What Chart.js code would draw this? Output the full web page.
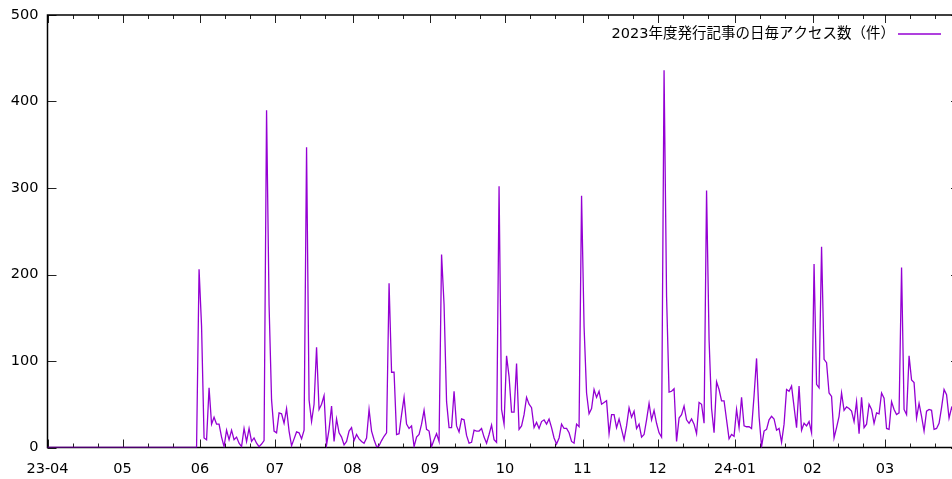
<!DOCTYPE html>
<html>
<head>
<meta charset="utf-8">
<script src="https://cdn.jsdelivr.net/npm/chart.js@4.4.1/dist/chart.umd.min.js"></script>
<style>
html, body { margin: 0; padding: 0; overflow: hidden; background: #fff; }
</style>
</head>
<body>
<canvas id="myChart" width="970" height="479"></canvas>
<script>
// daily access counts, one array per month (FY2023)
var apr = [0,0,0,0,0,0,0,0,0,0, 0,0,0,0,0,0,0,0,0,0, 0,0,0,0,0,0,0,0,0,0];
var may = [0,0,0,0,0,0,0,0,0,0, 0,0,0,0,0,0,0,0,0,0, 0,0,0,0,0,0,0,0,0,0, 0];
var jun = [206,140,11,9,69,27,35,27,27,12,1,20,9,20,9,12,5,1,22,7,22,7,11,5,1,4,8,390,165,55];
var jul = [19,17,40,39,28,45,19,2,10,18,17,10,20,347,55,30,50,116,44,50,60,3,21,48,7,33,17,12,3,7,19];
var aug = [23,8,15,10,7,5,11,44,19,9,1,2,8,13,17,190,87,87,15,16,38,58,27,22,25,1,12,15,27,43,21];
var sep = [19,1,9,16,7,223,165,53,23,23,65,25,18,33,32,14,5,6,20,19,19,22,12,5,15,26,9,6,302,44];
var oct = [27,106,82,41,41,97,21,25,38,58,50,46,23,29,22,30,32,27,33,23,11,4,11,27,22,22,17,7,5,27,24];
var nov = [291,140,63,39,45,67,58,65,50,52,54,16,38,38,23,33,21,9,25,46,35,42,22,27,12,15,32,51,32,43];
var dec = [28,17,12,436,175,64,65,68,7,34,38,48,32,28,33,27,16,52,50,28,297,125,45,17,76,67,54,54,32,10,15];
var jan = [13,44,23,58,25,24,24,22,60,103,36,1,19,21,32,36,33,20,22,6,27,67,65,71,47,23,71,20,28,25,30];
var feb = [17,212,73,69,232,102,98,63,59,11,23,36,63,43,47,45,42,30,53,16,58,23,27,50,44,28,40,39,63];
var mar = [57,22,21,53,44,38,40,208,44,38,106,78,75,34,51,36,19,42,44,43,21,22,28,46,67,61,34,46,40,35,30];

var months = [apr, may, jun, jul, aug, sep, oct, nov, dec, jan, feb, mar];
var monthLabels = ["23-04", "05", "06", "07", "08", "09", "10", "11", "12", "24-01", "02", "03"];
var minorTickDays = [10, 20];
var yTicks = [0, 100, 200, 300, 400, 500];
var seriesLabel = "2023年度発行記事の日毎アクセス数（件）";
var tzShift = 9 / 24; // JST midnight shown on a UTC time axis

var lineColor = "#9400d3";
var tickFont = { family: "'DejaVu Sans', sans-serif", size: 14.5 };

var points = [];
var monthStarts = [];
var day = 0;
months.forEach(function (m) {
    monthStarts.push(day);
    m.forEach(function (v, i) {
        points.push({ x: day + i - tzShift, y: v });
    });
    day += m.length;
});

// gnuplot style box with inward ticks on every side
var frame = {
    id: 'frame',
    beforeDatasetsDraw: function (chart) {
        var ctx = chart.ctx, a = chart.chartArea;
        var xs = chart.scales.x, ys = chart.scales.y;
        ctx.save();
        ctx.strokeStyle = "#222";
        ctx.lineWidth = 1;
        ctx.beginPath();
        monthStarts.forEach(function (d) {
            var px = Math.round(xs.getPixelForValue(d)) + 0.5;
            ctx.moveTo(px, a.bottom); ctx.lineTo(px, a.bottom - 8);
            ctx.moveTo(px, a.top); ctx.lineTo(px, a.top + 8);
            minorTickDays.forEach(function (off) {
                var q = Math.round(xs.getPixelForValue(d + off)) + 0.5;
                ctx.moveTo(q, a.bottom); ctx.lineTo(q, a.bottom - 4);
                ctx.moveTo(q, a.top); ctx.lineTo(q, a.top + 4);
            });
        });
        yTicks.forEach(function (v) {
            var py = Math.round(ys.getPixelForValue(v)) + 0.5;
            ctx.moveTo(a.left, py); ctx.lineTo(a.left + 9, py);
            ctx.moveTo(a.right, py); ctx.lineTo(a.right - 9, py);
        });
        ctx.stroke();
        ctx.strokeStyle = "#000";
        ctx.lineWidth = 1.5;
        ctx.strokeRect(a.left, a.top, a.right - a.left, a.bottom - a.top);
        ctx.restore();
    },
    afterDatasetsDraw: function (chart) {
        var ctx = chart.ctx;
        var ds = chart.data.datasets[0];
        ctx.save();
        ctx.font = "14.5px 'DejaVu Sans', 'Noto Sans CJK JP', sans-serif";
        ctx.fillStyle = "#000";
        ctx.textAlign = "right";
        ctx.textBaseline = "middle";
        ctx.fillText(ds.label, 895, 34.5);
        ctx.strokeStyle = ds.borderColor;
        ctx.lineWidth = 1.5;
        ctx.beginPath();
        ctx.moveTo(898, 34);
        ctx.lineTo(941, 34);
        ctx.stroke();
        ctx.restore();
    }
};

var ctx = document.getElementById("myChart").getContext('2d');
var myChart = new Chart(ctx, {
    type: 'line',
    data: {
        datasets: [{
            label: seriesLabel,
            data: points,
            borderColor: lineColor,
            borderWidth: 1.3,
            pointRadius: 0,
            tension: 0,
            fill: false
        }]
    },
    options: {
        responsive: false,
        animation: false,
        layout: { padding: { top: 15, right: 10, left: 0, bottom: 0 } },
        plugins: { legend: { display: false }, tooltip: { enabled: false } },
        scales: {
            x: {
                type: 'linear',
                min: 0,
                max: 365,
                grid: { display: false, drawTicks: false },
                border: { display: false },
                afterBuildTicks: function (scale) {
                    scale.ticks = monthStarts.map(function (v) { return { value: v }; });
                },
                afterFit: function (scale) {
                    scale.height = 31.5;
                    scale.paddingLeft = 0;
                    scale.paddingRight = 0;
                },
                ticks: {
                    autoSkip: false,
                    maxRotation: 0,
                    minRotation: 0,
                    padding: 13,
                    color: "#000",
                    font: tickFont,
                    callback: function (value, index) { return monthLabels[index]; }
                }
            },
            y: {
                min: 0,
                max: 500,
                grid: { display: false, drawTicks: false },
                border: { display: false },
                afterBuildTicks: function (scale) {
                    scale.ticks = yTicks.map(function (v) { return { value: v }; });
                },
                afterFit: function (scale) {
                    scale.width = 47.5;
                    scale.paddingTop = 0;
                    scale.paddingBottom = 0;
                },
                ticks: {
                    padding: 9,
                    color: "#000",
                    font: tickFont
                }
            }
        }
    },
    plugins: [frame]
});
</script>
</body>
</html>
